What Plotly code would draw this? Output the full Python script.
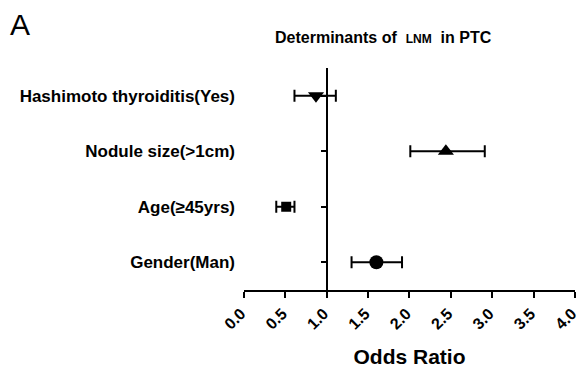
import plotly.graph_objects as go

# Data (bottom to top)
categories = ["Gender(Man)", "Age(≥45yrs)", "Nodule size(>1cm)", "Hashimoto thyroiditis(Yes)"]
odds_ratio = [1.60, 0.51, 2.44, 0.87]
ci_lower = [1.30, 0.39, 2.01, 0.61]
ci_upper = [1.91, 0.61, 2.91, 1.11]
symbols = ["circle", "square", "triangle-up", "triangle-down"]
marker_sizes = [14, 10, 14, 14]
x_ticks = [0.0, 0.5, 1.0, 1.5, 2.0, 2.5, 3.0, 3.5, 4.0]

y_pos = list(range(len(categories)))
FONT = "Liberation Sans, Arial, sans-serif"

fig = go.Figure()
for i in y_pos:
    fig.add_trace(go.Scatter(
        x=[odds_ratio[i]], y=[y_pos[i]],
        mode="markers",
        marker=dict(symbol=symbols[i], size=marker_sizes[i], color="black"),
        error_x=dict(type="data", symmetric=False,
                     array=[ci_upper[i] - odds_ratio[i]],
                     arrayminus=[odds_ratio[i] - ci_lower[i]],
                     color="black", thickness=2, width=6),
        showlegend=False, hoverinfo="skip",
    ))

# invisible trace for the second y axis (the line at OR = 1)
fig.add_trace(go.Scatter(x=[1.0] * len(y_pos), y=y_pos, yaxis="y2", mode="markers",
                         marker=dict(opacity=0), showlegend=False, hoverinfo="skip"))

fig.update_layout(
    width=580, height=371,
    margin=dict(l=244, r=5, t=68, b=81),
    paper_bgcolor="white", plot_bgcolor="white",
    font=dict(family=FONT, color="black"),
    xaxis=dict(
        range=[0, 4.0005], tickvals=x_ticks, ticktext=[f"{v:.1f}" for v in x_ticks],
        tickangle=-45, showgrid=False, zeroline=False, automargin=False,
        showline=True, linecolor="black", linewidth=2,
        ticks="outside", ticklen=6, tickwidth=2, tickcolor="black",
        ticklabeloverflow="allow", ticklabelshift=-3,
        tickfont=dict(family=FONT, size=16, color="black", weight="bold"),
        title=dict(text="<b>Odds Ratio</b>", font=dict(family=FONT, size=21, color="black"), standoff=18),
    ),
    yaxis=dict(
        range=[-0.5, 3.5], tickvals=y_pos, ticktext=[f"<b>{c}</b>" for c in categories],
        showgrid=False, zeroline=False, showline=False, ticks="", automargin=False,
        ticklabelstandoff=8,
        tickfont=dict(family=FONT, size=17, color="black"),
    ),
    yaxis2=dict(
        range=[-0.5, 3.5], tickvals=y_pos, overlaying="y", anchor="free", position=0.25,
        side="left", showgrid=False, zeroline=False, showticklabels=False, automargin=False,
        showline=True, linecolor="black", linewidth=2,
        ticks="outside", ticklen=5, tickwidth=2, tickcolor="black",
    ),
    annotations=[
        dict(text="A", xref="paper", yref="paper", x=-236 / 331, y=(290 - 24) / 222,
             xanchor="left", yanchor="middle", showarrow=False,
             font=dict(family=FONT, size=30, color="black")),
        dict(text="<b>Determinants of  <span style='font-size:12px'>LNM</span>  in PTC</b>",
             xref="paper", yref="paper", x=(383 - 244) / 331, y=(290 - 37) / 222,
             xanchor="center", yanchor="middle", showarrow=False,
             font=dict(family=FONT, size=16, color="black")),
    ],
)

fig.write_html("out.html")
